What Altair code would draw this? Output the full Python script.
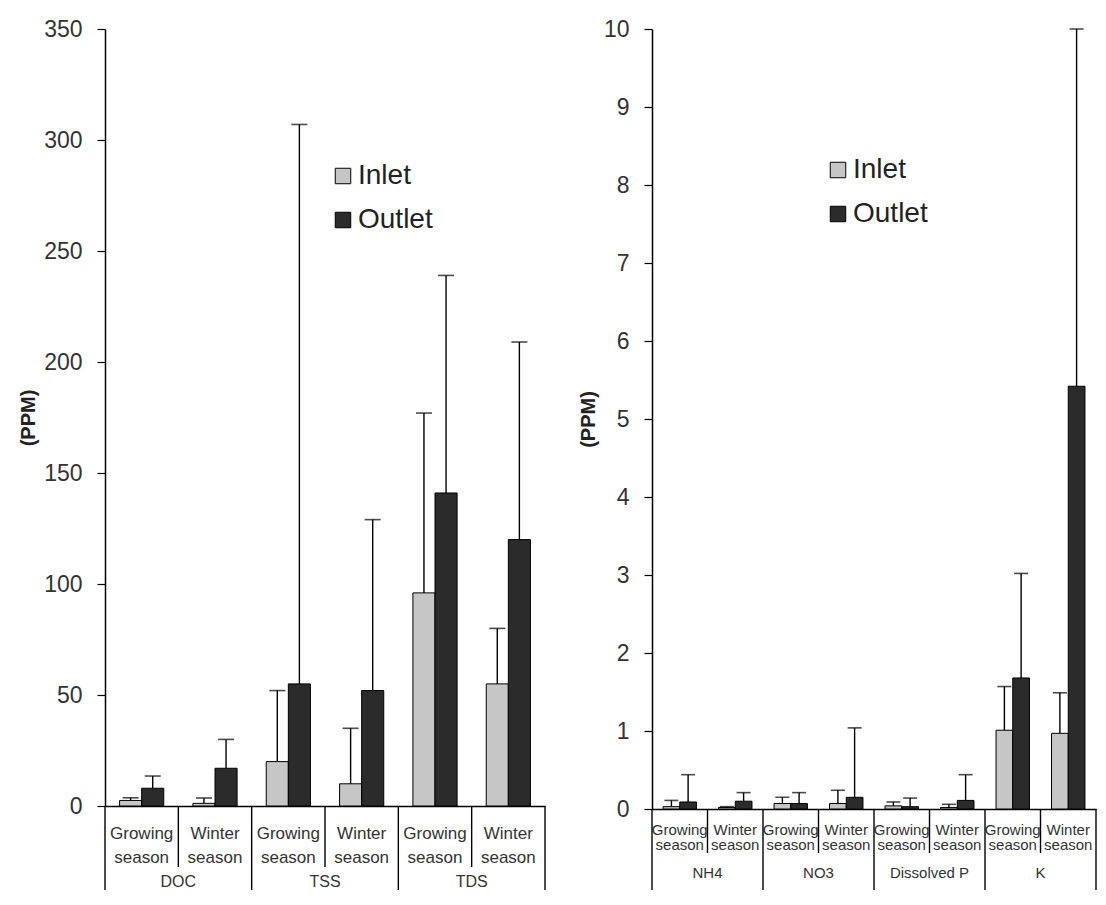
import altair as alt
import pandas as pd

FONT = "Liberation Sans"

# ---------------- data ----------------
series_names = ["Inlet", "Outlet"]
series_colors = ["#c6c6c6", "#2b2b2b"]

left_groups = ["DOC", "DOC", "TSS", "TSS", "TDS", "TDS"]
left_seasons = ["Growing", "Winter", "Growing", "Winter", "Growing", "Winter"]
left_inlet = [2.5, 1.2, 20, 10, 96, 55]
left_inlet_err = [1.2, 2.4, 32, 25, 81, 25]
left_outlet = [8, 17, 55, 52, 141, 120]
left_outlet_err = [5.5, 13, 252, 77, 98, 89]
left_ticks = [0, 50, 100, 150, 200, 250, 300, 350]

right_groups = ["NH4", "NH4", "NO3", "NO3", "Dissolved P", "Dissolved P", "K", "K"]
right_seasons = ["Growing", "Winter", "Growing", "Winter", "Growing", "Winter", "Growing", "Winter"]
right_inlet = [0.03, 0.02, 0.07, 0.07, 0.04, 0.02, 1.01, 0.97]
right_inlet_err = [0.08, 0.01, 0.08, 0.17, 0.05, 0.04, 0.56, 0.52]
right_outlet = [0.09, 0.10, 0.07, 0.15, 0.03, 0.11, 1.68, 5.42]
right_outlet_err = [0.35, 0.11, 0.14, 0.89, 0.11, 0.33, 1.34, 4.58]
right_ticks = [0, 1, 2, 3, 4, 5, 6, 7, 8, 9, 10]

season_text = {"Growing": "Growing\nseason", "Winter": "Winter\nseason"}


def panel(groups, seasons, inlet, inlet_err, outlet, outlet_err, ticks, W, H,
          season_fs, season_y, season_lh, group_fs, group_y, short_len, long_len,
          legend_x, legend_y, legend_fs, cap):
    n = len(groups)
    slots = [f"{g}|{s}" for g, s in zip(groups, seasons)]
    df = pd.DataFrame({
        "slot": slots * 2,
        "series": ["Inlet"] * n + ["Outlet"] * n,
        "mean": inlet + outlet,
        "top": [m + e for m, e in zip(inlet, inlet_err)] + [m + e for m, e in zip(outlet, outlet_err)],
    })
    labels = pd.DataFrame({"slot": slots, "label": [season_text[s] for s in seasons],
                           "season": seasons})
    grp = pd.DataFrame({"slot": [sl for sl, s in zip(slots, seasons) if s == "Winter"],
                        "label": [g for g, s in zip(groups, seasons) if s == "Winter"]})

    xenc = alt.X("slot:N", sort=slots,
                 scale=alt.Scale(domain=slots, paddingInner=0, paddingOuter=0),
                 axis=alt.Axis(labels=False, ticks=False, title=None, domain=True,
                               domainColor="black", domainWidth=1.5, grid=False))
    xoff = alt.XOffset("series:N", sort=series_names,
                       scale=alt.Scale(domain=series_names, paddingInner=0, paddingOuter=0.66))
    yenc = alt.Y("mean:Q",
                 scale=alt.Scale(domain=[ticks[0], ticks[-1]], nice=False, zero=True),
                 axis=alt.Axis(values=ticks, format="d", title="(PPM)", grid=False,
                               labelFont=FONT, labelFontSize=23, labelColor="#333333",
                               labelPadding=15, tickSize=8, tickColor="black", tickWidth=1.2,
                               domainColor="black", domainWidth=1.5,
                               titleFont=FONT, titleFontSize=20, titleFontWeight="bold",
                               titleColor="#222222", titlePadding=5))
    color = alt.Color("series:N",
                      scale=alt.Scale(domain=series_names, range=series_colors),
                      legend=alt.Legend(title=None, orient="none", legendX=legend_x,
                                        legendY=legend_y, symbolType="square",
                                        symbolSize=240, symbolStrokeColor="black",
                                        symbolStrokeWidth=1, labelFont=FONT,
                                        labelFontSize=legend_fs, labelColor="#222222",
                                        rowPadding=16, padding=0, labelOffset=1))

    base = alt.Chart(df)
    bars = base.mark_bar(stroke="black", strokeWidth=1).encode(
        x=xenc, xOffset=xoff, y=yenc, color=color)
    err = base.mark_rule(color="black", strokeWidth=1.4).encode(
        x=alt.X("slot:N"), xOffset=alt.XOffset("series:N"),
        y=alt.Y("mean:Q"), y2=alt.Y2("top:Q"))
    caps = base.mark_tick(color="black", thickness=1.6).encode(
        x=alt.X("slot:N"), xOffset=alt.XOffset("series:N"),
        y=alt.Y("top:Q"), size=alt.value(cap))

    stext = alt.Chart(labels).mark_text(
        font=FONT, fontSize=season_fs, color="#333333", lineBreak="\n",
        lineHeight=season_lh, baseline="middle", align="center").encode(
        x=alt.X("slot:N"), y=alt.value(season_y), text="label:N")
    gtext = alt.Chart(grp).mark_text(
        font=FONT, fontSize=group_fs, color="#333333", baseline="middle",
        align="center").encode(
        x=alt.X("slot:N", bandPosition=0), y=alt.value(group_y), text="label:N")

    short_sep = alt.Chart(labels[labels["season"] == "Winter"]).mark_rule(
        color="black", strokeWidth=1.4).encode(
        x=alt.X("slot:N", bandPosition=0), y=alt.value(H), y2=alt.value(H + short_len))
    long_sep = alt.Chart(labels[labels["season"] == "Growing"]).mark_rule(
        color="black", strokeWidth=1.4).encode(
        x=alt.X("slot:N", bandPosition=0), y=alt.value(H), y2=alt.value(H + long_len))
    end_sep = alt.Chart(pd.DataFrame({"k": [0]})).mark_rule(
        color="black", strokeWidth=1.4).encode(
        x=alt.value(W), y=alt.value(H), y2=alt.value(H + long_len))

    return alt.layer(bars, err, caps, stext, gtext, short_sep, long_sep, end_sep).properties(
        width=W, height=H)


left = panel(left_groups, left_seasons, left_inlet, left_inlet_err, left_outlet,
             left_outlet_err, left_ticks, W=440, H=777,
             season_fs=17, season_y=777 + 28, season_lh=24, group_fs=16,
             group_y=777 + 76, short_len=61, long_len=84,
             legend_x=224, legend_y=133, legend_fs=28, cap=16)
right = panel(right_groups, right_seasons, right_inlet, right_inlet_err, right_outlet,
              right_outlet_err, right_ticks, W=444, H=780,
              season_fs=15, season_y=780 + 21, season_lh=15, group_fs=15,
              group_y=780 + 64, short_len=44, long_len=81,
              legend_x=172, legend_y=127, legend_fs=28, cap=14)

chart = alt.hconcat(left, right, spacing=32).resolve_scale(
    x="independent", y="independent", color="independent", xOffset="independent"
).properties(
    padding={"left": 10, "top": 10, "right": 0, "bottom": 0},
    background="white",
).configure_view(stroke=None)

chart.save("out.html", embed_options={"renderer": "svg", "actions": False})
